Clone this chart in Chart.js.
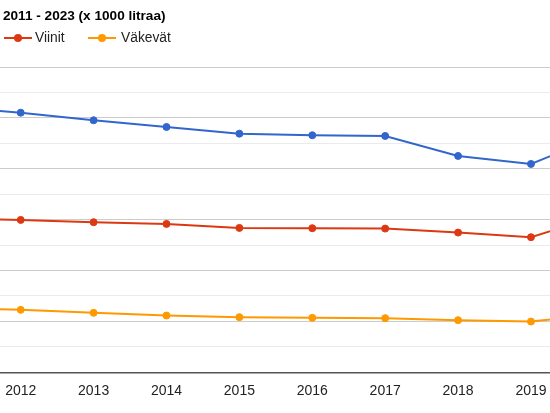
<!DOCTYPE html>
<html>
<head>
<meta charset="utf-8">
<script src="https://cdn.jsdelivr.net/npm/chart.js@4"></script>
<style>
  html, body { margin: 0; padding: 0; background: #fff; overflow: hidden; }
  #wrap { width: 550px; height: 413px; position: relative; }
</style>
</head>
<body>
<div id="wrap"><canvas id="c" width="550" height="413"></canvas></div>
<script>
// Data (x 1000 litraa)
const years = [2011, 2012, 2013, 2014, 2015, 2016, 2017, 2018, 2019, 2020];
const yhteensa = [104400, 102050, 99070, 96430, 93800, 93170, 92900, 85040, 81900, 93490];
const viinit   = [60330, 59900, 59000, 58330, 56760, 56640, 56490, 54920, 53110, 62140];
const vakevat  = [25530, 24550, 23370, 22310, 21680, 21410, 21290, 20500, 19950, 22980];
const titleText = '2011 - 2023 (x 1000 litraa)';
const seriesLabels = ['Yhteensä', 'Viinit', 'Väkevät'];
const seriesColors = ['#3366cc', '#dc3912', '#ff9900'];
const legendShown = ['Viinit', 'Väkevät'];

const FONT = "Arial, 'Liberation Sans', sans-serif";

function pts(vals) { return years.map((yr, i) => ({ x: yr, y: vals[i] })); }

const titleLegendPlugin = {
  id: 'titleLegend',
  afterDraw(chart) {
    const ctx = chart.ctx;
    ctx.save();
    ctx.fillStyle = '#000';
    ctx.font = 'bold 13.6px ' + FONT;
    ctx.textBaseline = 'alphabetic';
    ctx.textAlign = 'left';
    ctx.fillText(titleText, 3, 19.5);
    const slots = [
      { x0: 4, x1: 32, tx: 35 },
      { x0: 88, x1: 116, tx: 121 }
    ];
    const ly = 38;
    legendShown.forEach((name, k) => {
      const ds = chart.data.datasets.find(d => d.label === name);
      const it = slots[k];
      ctx.strokeStyle = ds.borderColor;
      ctx.lineWidth = 2;
      ctx.beginPath();
      ctx.moveTo(it.x0, ly);
      ctx.lineTo(it.x1, ly);
      ctx.stroke();
      ctx.fillStyle = ds.borderColor;
      ctx.beginPath();
      ctx.arc((it.x0 + it.x1) / 2, ly, 4, 0, Math.PI * 2);
      ctx.fill();
      ctx.fillStyle = '#222';
      ctx.font = '13.8px ' + FONT;
      ctx.textBaseline = 'middle';
      ctx.fillText(ds.label, it.tx, ly);
    });
    ctx.restore();
  }
};

const datasets = [yhteensa, viinit, vakevat].map((vals, i) => ({
  label: seriesLabels[i],
  data: pts(vals),
  borderColor: seriesColors[i],
  backgroundColor: seriesColors[i],
  pointBackgroundColor: seriesColors[i],
  pointBorderColor: seriesColors[i],
  borderWidth: 2,
  pointRadius: 3.5,
  pointBorderWidth: 1,
  tension: 0,
  fill: false
}));

new Chart(document.getElementById('c'), {
  type: 'line',
  data: { datasets },
  options: {
    responsive: false,
    animation: false,
    devicePixelRatio: 1,
    layout: { autoPadding: false, padding: { top: 67, bottom: 3.5, left: 0, right: 0 } },
    plugins: {
      legend: { display: false },
      title: { display: false },
      tooltip: { enabled: false }
    },
    scales: {
      x: {
        type: 'linear',
        min: 2011.716,
        max: 2019.261,
        afterFit: s => { s.paddingLeft = 0; s.paddingRight = 0; },
        grid: { display: false, drawTicks: false },
        border: { display: true, color: '#555', width: 1.5 },
        ticks: {
          stepSize: 1,
          includeBounds: false,
          autoSkip: false,
          maxRotation: 0,
          padding: 10.2,
          color: '#222',
          font: { family: FONT, size: 14 },
          callback: v => Number.isInteger(v) ? String(v) : ''
        }
      },
      y: {
        min: 0,
        max: 120000,
        afterFit: s => { s.width = 0; s.paddingTop = 0; s.paddingBottom = 0; },
        grid: {
          drawTicks: false,
          color: c => (c.tick && c.tick.value % 20000 === 0) ? '#cccccc' : '#ebebeb',
          lineWidth: 1
        },
        border: { display: false },
        ticks: { display: false, stepSize: 10000 }
      }
    }
  },
  plugins: [titleLegendPlugin]
});
</script>
</body>
</html>
